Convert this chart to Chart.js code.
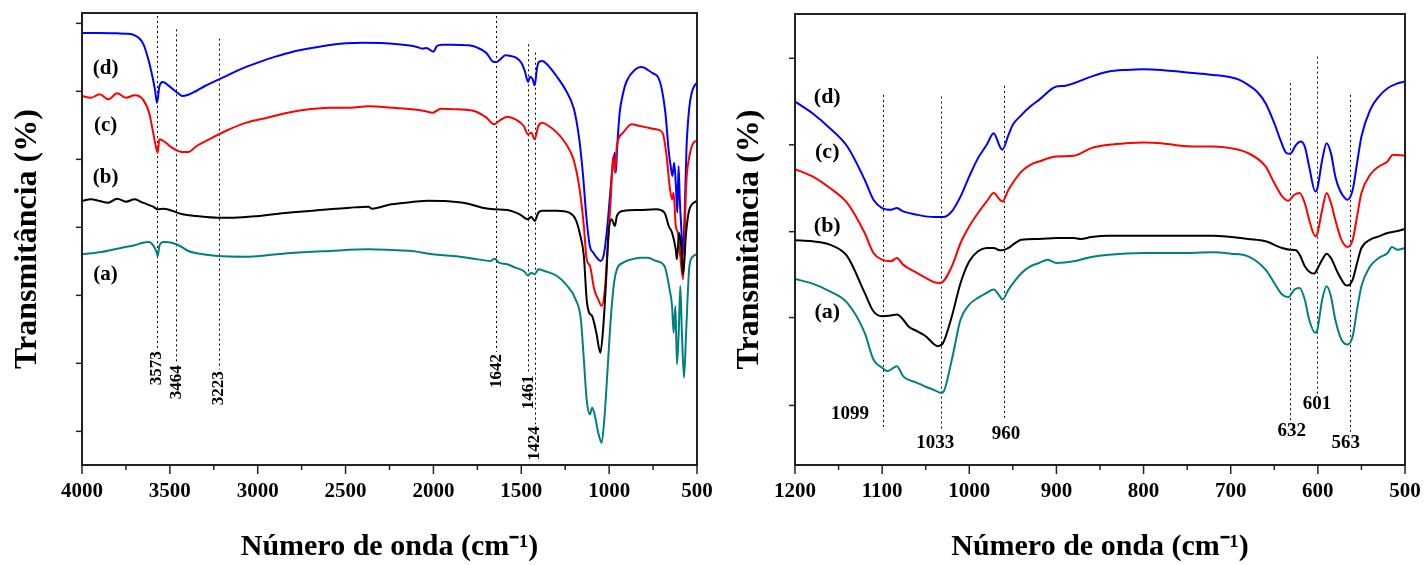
<!DOCTYPE html>
<html><head><meta charset="utf-8">
<script src="https://cdn.jsdelivr.net/npm/chart.js@4/dist/chart.umd.min.js"></script>
<style>
html,body{margin:0;padding:0;background:#fff;}
#wrap{position:relative;width:1426px;height:565px;overflow:hidden;}
.panel{position:absolute;top:0;width:713px;height:565px;}
</style></head><body>
<div id="wrap">
<div class="panel" style="left:0"><canvas id="c1" width="713" height="565"></canvas></div>
<div class="panel" style="left:713px"><canvas id="c2" width="713" height="565"></canvas></div>
</div>
<script>
// ---------- LEFT PANEL DATA (4000-500 cm-1) ----------
const leftWnD = [4000,3900,3800,3750,3700,3650,3620,3600,3585,3573,3560,3540,3500,3450,3430,3400,3350,3300,3200,3100,3000,2900,2800,2700,2600,2500,2400,2300,2200,2100,2060,2040,2000,1980,1950,1900,1800,1750,1700,1660,1640,1620,1590,1560,1530,1500,1480,1461,1450,1435,1424,1410,1400,1380,1350,1300,1250,1200,1170,1150,1130,1110,1090,1070,1050,1030,1010,1000,980,968,962,955,940,920,900,850,820,800,780,750,720,700,680,660,650,640,630,620,612,605,598,590,580,570,560,545,530,515,500];
const leftTD = [129.9,129.9,129.8,129.7,129.2,126.5,121.5,117,113,109,113.8,115.2,113.8,111.7,111,111.3,112.5,114,116.5,119,121,122.8,124.3,125.3,126.2,126.8,127,126.9,126.5,125.8,125.2,125.4,124.3,126,126.4,126.4,126.2,125.5,124,121.3,121.2,122,123.2,123,122.5,121,118.5,115.2,116.8,116,114.2,119.5,121.2,121.5,120.3,117,113,107,98,88,75,66,64,62.5,61.5,63.5,72,78,90,94,88,95,106,112,115.5,119,119.7,119.5,118.8,117.8,116.5,113,106,94,90,87,91,84,76,90,80,72,63.5,76,95,107,112,114,115];

const leftWnC = [4000,3950,3900,3850,3800,3750,3700,3654,3618,3595,3576,3569,3560,3536,3489,3428,3395,3348,3277,3183,3065,2947,2829,2711,2593,2476,2370,2240,2122,2051,2004,1957,1863,1769,1698,1656,1627,1580,1533,1486,1462,1443,1424,1403,1380,1344,1297,1250,1203,1168,1144,1128,1109,1085,1062,1043,1026,1010,991,977,967,956,920,873,826,779,732,696,673,656,642,633,621,609,597,579,562,543,520,503];
const leftTC = [111,110.5,111.5,110,111.8,110.5,111.2,110,106,100,95,94,98,97.5,95.5,94.2,94.2,96,98,100.5,103,104.5,106,107,107.5,107.5,107.9,107.5,107,106.5,106,107.2,107,106.5,104.5,102.5,103.5,104.8,104,102,99.5,100,98,102,103,102,100,97,92,83,72,62,60,53,50,48,52,64,80,93,88,96,100,102.5,102,101.5,101,100,93,84,80,82,72,70,64,56,84,93,97,97.5];

const leftWnB = [4000,3950,3900,3850,3800,3750,3700,3654,3595,3569,3536,3428,3348,3230,3135,2994,2829,2593,2476,2370,2350,2240,2122,2028,1934,1816,1722,1656,1580,1509,1462,1443,1424,1403,1380,1297,1227,1191,1168,1144,1128,1114,1097,1073,1050,1033,1019,1003,986,967,956,920,826,732,685,661,642,621,614,602,590,579,562,543,503];
const leftTB = [79.5,80,79.5,79,80.2,79.3,80,79,77.8,77,77.2,75.5,75,74.5,74.5,75,76,77,77.5,77.8,77.2,78.5,79.2,79.6,79.5,78.8,77.5,77,76.8,75.5,74,74.8,73.5,76,76.6,76.6,76,74,70,63,50,46,45,40,34,42,54,70,74,72,75,76.5,76.8,77,76,72,70,65,62,70,66,57.5,70,77,79.5];

const leftWnA = [4000,3890,3772,3701,3654,3618,3595,3578,3569,3560,3536,3489,3442,3395,3348,3230,3065,2947,2829,2593,2370,2240,2122,2004,1886,1769,1674,1651,1627,1580,1533,1486,1462,1443,1424,1403,1368,1297,1238,1191,1161,1144,1128,1109,1097,1085,1062,1043,1026,1010,991,972,956,920,873,826,779,732,685,656,642,633,623,614,604,595,586,574,562,543,520,503];
const leftTA = [63.5,64.2,65.5,66.2,67,67.2,66.2,64.5,63,66,67.2,67,66,64.5,63.8,63,62.8,63.2,63.8,64.5,65,64.8,64.5,63.5,63,62.2,61.5,62.2,61,60.5,59.5,58.5,57.2,58,57.5,59,58.5,57,54,50,44,32,20,15.5,17.5,16,10,7,15,28,44,55,59,61,62,62.5,62.5,61.5,60,53,48,40,48,30.5,40,54,40,26.5,40,60,63,63.5];

const leftXTicks = [4000,3500,3000,2500,2000,1500,1000,500];
const leftXMinor = [3750,3250,2750,2250,1750,1250,750];
const leftYTicks = [10.4,30.8,51.2,71.6,92,112.4,132.8];

const leftMarks = [3573,3464,3223,1642,1461,1424];
const leftMarkTop = [135,131,128.2,135,126.5,124];
const leftMarkBottom = [35,30.8,29,34.2,27.8,12.5];

const curveNames = ['(a)','(b)','(c)','(d)'];
const leftNameWn = 3866;
const leftNameT = [57.5,86.6,102.2,119.3];

// ---------- RIGHT PANEL DATA (1200-500 cm-1) ----------
const rightWnD = [1200,1180,1160,1140,1120,1110,1100,1090,1083,1076,1060,1050,1040,1030,1020,1010,1000,990,980,972,965,962,955,950,940,930,920,900,891,880,860,840,820,800,780,760,740,720,700,690,680,670,660,650,643,636,632,625,620,615,610,603,601,595,590,585,580,575,569,566,560,555,550,540,530,520,510,500];
const rightTD = [109.5,106,101.5,96,86,80,77.5,77,77.5,76.5,75.5,75,74.8,74.8,76.5,81,87,92.5,96.5,100,96,95,99.5,102.5,105.5,108,110,114,114.2,115,117,118.5,119,119.2,119,118.5,118,117.5,116.8,116,114.5,112.5,109,103,98,94,93.8,96.5,97.5,96,90,82.5,83,92,97,94,87,83,80.5,80,83,91,99,107,111,113.5,114.8,115.5];

const rightWnC = [1200,1180,1160,1140,1120,1110,1100,1090,1083,1076,1060,1050,1040,1033,1020,1010,1000,990,980,972,965,962,955,940,930,920,900,880,860,840,820,800,780,760,740,720,700,680,660,650,641,634,627,621,615,610,603,601,595,590,585,580,573,566,560,555,550,540,530,520,514,500];
const rightTC = [89.2,87,83.5,79,70,64,62,61.5,62.5,60.5,58,56.5,55.2,55,60,67,72,76,79.5,82,80,79.5,83,88.5,90.5,91.5,93,93.2,95.5,96.5,97,97.2,97,96.3,96,96,95.5,94,90,85,81,79.7,81.5,82,79,74,69,69.5,77,82,79,74,68,65.8,68,75,82,87.5,90,91.5,93.5,93.3];

const rightWnB = [1200,1180,1160,1140,1120,1110,1100,1090,1083,1076,1070,1060,1050,1040,1036,1030,1020,1010,1000,990,980,972,965,962,955,950,940,920,900,880,872,860,840,800,760,720,700,680,660,641,632,625,620,615,608,604,601,595,590,585,577,569,566,560,555,550,540,530,520,510,500];
const rightTB = [67.8,67.5,66.5,63,52,46.5,45,45.2,45.5,44,42,40.5,39,36.5,36,37,45,55,61.5,64.5,65.5,65.5,64.8,64.8,65.5,66.5,68,68.2,68.5,68.5,68.2,68.8,69.2,69.2,69.2,69.2,68.8,68.2,67.5,65.5,65,64.8,63,60,58,57.8,59,62,63.8,62.5,58,54.5,54.2,56,61,65.5,68,69,70,70.5,71.2];

const rightWnA = [1200,1180,1160,1140,1120,1110,1100,1094,1087,1083,1076,1060,1050,1040,1033,1030,1020,1010,1000,990,980,972,965,962,955,940,930,920,910,900,880,860,840,800,760,720,700,680,660,650,641,634,627,621,615,610,603,601,595,590,585,580,573,566,560,555,550,540,530,520,515,509,500];
const rightTA = [56.2,54.8,52.5,49,40,32,29.5,28.5,29.5,30,27,25,23.8,22.8,22,22.2,32,44,48.5,50.5,52,53,51,50,53,58,60,61,62,61,61.5,62.8,63.5,64,64,64.2,63.8,63,59,55,51.5,50.7,53,53.5,50,44,40,40.5,50,54,51,44,38,36.5,39,47,54,60,62.5,64,65.8,65,65.5];

const rightXTicks = [1200,1100,1000,900,800,700,600,500];
const rightXMinor = [1150,1050,950,850,750,650,550];
const rightYTicks = [18.2,44.6,70.4,96.5,122.5];

const rightMarks = [1099,1033,960,632,601,563];
const rightMarkTop = [111.5,111,114.2,115,123,111.5];
const rightMarkBottom = [11.5,11,13.8,12.5,21,10];
const rightMarkLabelWn = [1137,1039,958,630,601,568];
const rightMarkLabelT = [15.5,7,9.5,10.5,18.5,7];

const rightNameWn = 1163;
const rightNameT = [46.1,71.9,94.1,110.9];

// ---------- STYLE ----------
const SERIF = '"Liberation Serif","Times New Roman",serif';
const COLORS = {a:'#008080', b:'#000000', c:'#ff0000', d:'#0000ff'};

function series(wn, t){ return wn.map((w,i)=>({x:w, y:t[i]})); }

function decor(cfg){
  return {
    id:'decor',
    beforeDatasetsDraw(chart){
      const ctx = chart.ctx, xs = chart.scales.x, ys = chart.scales.y;
      ctx.save();
      ctx.strokeStyle = '#000'; ctx.lineWidth = 1; ctx.setLineDash([2,3]);
      cfg.marks.forEach((m,i)=>{
        const x = Math.round(xs.getPixelForValue(m)) + 0.5;
        ctx.beginPath();
        ctx.moveTo(x, ys.getPixelForValue(cfg.markTop[i]));
        ctx.lineTo(x, ys.getPixelForValue(cfg.markBottom[i]));
        ctx.stroke();
      });
      ctx.restore();
    },
    afterDraw(chart){
      const ctx = chart.ctx, xs = chart.scales.x, ys = chart.scales.y, a = chart.chartArea;
      ctx.save();
      ctx.strokeStyle = '#222'; ctx.lineWidth = 2; ctx.setLineDash([]);
      ctx.strokeRect(a.left, a.top, a.right - a.left, a.bottom - a.top);
      ctx.lineWidth = 1.5;
      cfg.xTicks.forEach(v=>{ const x = xs.getPixelForValue(v); ctx.beginPath(); ctx.moveTo(x, a.bottom); ctx.lineTo(x, a.bottom + 9); ctx.stroke(); });
      cfg.xMinor.forEach(v=>{ const x = xs.getPixelForValue(v); ctx.beginPath(); ctx.moveTo(x, a.bottom); ctx.lineTo(x, a.bottom + 5); ctx.stroke(); });
      cfg.yTicks.forEach(v=>{ const y = ys.getPixelForValue(v); ctx.beginPath(); ctx.moveTo(a.left - 6, y); ctx.lineTo(a.left, y); ctx.stroke(); });
      ctx.fillStyle = '#000';
      if (cfg.rotatedMarkLabels){
        ctx.font = 'bold 17px ' + SERIF;
        cfg.marks.forEach((m,i)=>{
          const x = xs.getPixelForValue(m);
          ctx.save();
          ctx.translate(x, ys.getPixelForValue(cfg.markBottom[i]) + 2);
          ctx.rotate(-Math.PI/2);
          ctx.textAlign = 'right'; ctx.textBaseline = 'middle';
          ctx.fillText(String(m), 0, 0);
          ctx.restore();
        });
      } else {
        ctx.font = 'bold 19px ' + SERIF;
        ctx.textAlign = 'center'; ctx.textBaseline = 'middle';
        cfg.marks.forEach((m,i)=>{
          ctx.fillText(String(m), xs.getPixelForValue(cfg.markLabelWn[i]), ys.getPixelForValue(cfg.markLabelT[i]));
        });
      }
      ctx.font = 'bold ' + cfg.nameSize + 'px ' + SERIF;
      ctx.textAlign = 'center'; ctx.textBaseline = 'middle';
      curveNames.forEach((n,i)=>{
        ctx.fillText(n, xs.getPixelForValue(cfg.nameWn), ys.getPixelForValue(cfg.nameT[i]));
      });
      ctx.restore();
    }
  };
}

function makeChart(id, cfg){
  return new Chart(document.getElementById(id), {
    type:'line',
    data:{datasets: cfg.series.map(s=>({
      label:s.name, data:series(s.wn, s.t), borderColor:s.color, backgroundColor:s.color,
      borderWidth:2, pointRadius:0, cubicInterpolationMode:'monotone', fill:false
    }))},
    options:{
      responsive:false, animation:false, devicePixelRatio:1,
      layout:{padding:{left:0, right:cfg.padRight, top:cfg.padTop, bottom:0}},
      plugins:{legend:{display:false}, tooltip:{enabled:false}},
      scales:{
        x:{
          type:'linear', reverse:true, min:cfg.xMin, max:cfg.xMax,
          afterFit:s=>{ s.height = 100; s.paddingLeft = 0; s.paddingRight = 0; },
          afterBuildTicks:s=>{ s.ticks = cfg.xTicks.map(v=>({value:v})); },
          grid:{display:false, drawTicks:false}, border:{display:false},
          ticks:{padding:14, maxRotation:0, autoSkip:false, color:'#000',
                 font:{family:SERIF, size:21, weight:'bold'}, callback:v=>String(v)},
          title:{display:true, text:'Número de onda (cm⁻¹)', color:'#000',
                 font:{family:SERIF, size:30, weight:'bold'}, padding:{top:0, bottom:0}}
        },
        y:{
          type:'linear', min:cfg.yMin, max:cfg.yMax,
          afterFit:s=>{ s.width = 82; s.paddingTop = 0; s.paddingBottom = 0; },
          afterBuildTicks:s=>{ s.ticks = cfg.yTicks.map(v=>({value:v})); },
          grid:{display:false, drawTicks:false}, border:{display:false},
          ticks:{display:false},
          title:{display:true, text:'Transmitância (%)', color:'#000',
                 font:{family:SERIF, size:32, weight:'bold'}, padding:{top:cfg.yTitlePad, bottom:0}}
        }
      }
    },
    plugins:[decor(cfg)]
  });
}

makeChart('c1', {
  series:[
    {name:'(a)', wn:leftWnA, t:leftTA, color:COLORS.a},
    {name:'(b)', wn:leftWnB, t:leftTB, color:COLORS.b},
    {name:'(c)', wn:leftWnC, t:leftTC, color:COLORS.c},
    {name:'(d)', wn:leftWnD, t:leftTD, color:COLORS.d}
  ],
  xMin:500, xMax:4000, yMin:0.3, yMax:135.9,
  xTicks:leftXTicks, xMinor:leftXMinor, yTicks:leftYTicks,
  marks:leftMarks, markTop:leftMarkTop, markBottom:leftMarkBottom, rotatedMarkLabels:true,
  nameWn:leftNameWn, nameT:leftNameT, nameSize:21,
  padRight:16, padTop:13, yTitlePad:9
});

makeChart('c2', {
  series:[
    {name:'(a)', wn:rightWnA, t:rightTA, color:COLORS.a},
    {name:'(b)', wn:rightWnB, t:rightTB, color:COLORS.b},
    {name:'(c)', wn:rightWnC, t:rightTC, color:COLORS.c},
    {name:'(d)', wn:rightWnD, t:rightTD, color:COLORS.d}
  ],
  xMin:500, xMax:1200, yMin:0.3, yMax:135.8,
  xTicks:rightXTicks, xMinor:rightXMinor, yTicks:rightYTicks,
  marks:rightMarks, markTop:rightMarkTop, markBottom:rightMarkBottom, rotatedMarkLabels:false,
  markLabelWn:rightMarkLabelWn, markLabelT:rightMarkLabelT,
  nameWn:rightNameWn, nameT:rightNameT, nameSize:22,
  padRight:21, padTop:14, yTitlePad:18
});
</script>
</body></html>
